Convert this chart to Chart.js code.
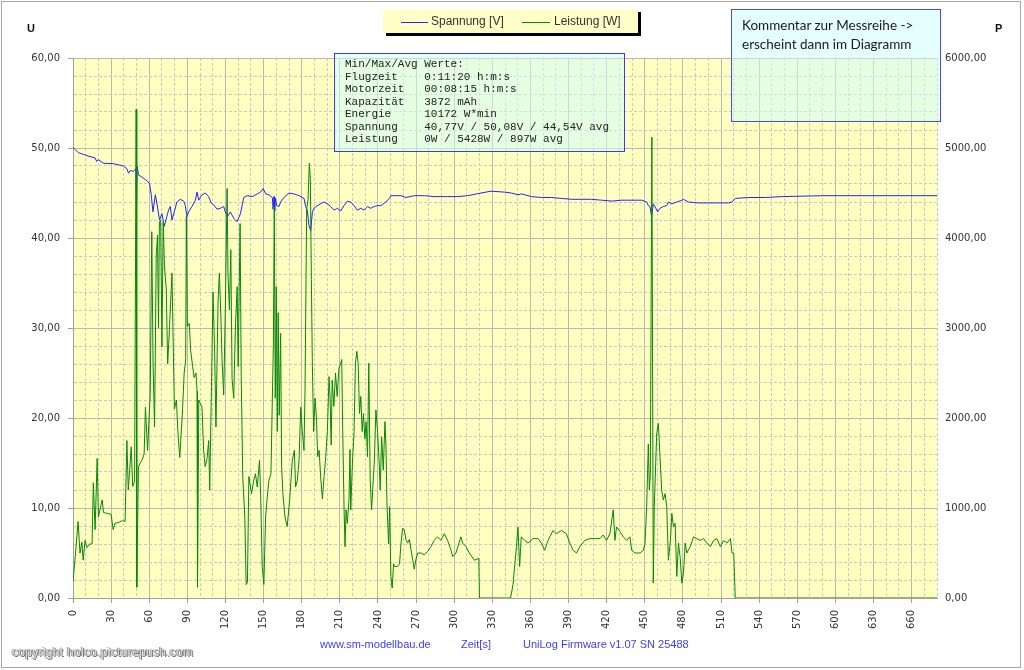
<!DOCTYPE html>
<html>
<head>
<meta charset="utf-8">
<title>UniLog Messreihe</title>
<script src="https://cdn.jsdelivr.net/npm/chart.js@4.4.1/dist/chart.umd.min.js"></script>
<style>
  body { margin: 0; background: #fff; }
  #wrap { position: relative; width: 1024px; height: 670px; overflow: hidden; }
  #chart { position: absolute; left: 0; top: 0; }
  .frame { position: absolute; left: 1px; top: 1px; width: 1020px; height: 667px; box-sizing: border-box; border: 1px solid #a8a8a8; pointer-events: none; }
  .axisTitle { position: absolute; font: bold 11px "Liberation Sans", Arial, sans-serif; color: #111; }
  .legend { position: absolute; left: 383px; top: 9px; width: 255px; height: 24px; background: #ffffc8; box-shadow: 3px 3px 0 #000; font: 12px "Liberation Sans", Arial, sans-serif; color: #333; }
  .legend .swatch { position: absolute; top: 13px; height: 0; border-top: 1px solid; }
  .legend .label { position: absolute; top: 5px; line-height: 14px; white-space: nowrap; }
  .infoBox { position: absolute; left: 334px; top: 53px; width: 291px; height: 99px; box-sizing: border-box; border: 1px solid #3a3aff; background: rgba(204, 255, 255, 0.5); padding: 4px 0 0 10px; font: 11px "Liberation Mono", "Courier New", monospace; line-height: 12.5px; color: #222; white-space: pre; }
  .commentBox { position: absolute; left: 731px; top: 9px; width: 210px; height: 113px; box-sizing: border-box; border: 1px solid #4848ff; background: rgba(204, 255, 255, 0.5); padding: 6px 0 0 10px; font: 13.5px Lato, "Open Sans", sans-serif; line-height: 19px; color: #1a1a1a; }
  .footer { position: absolute; top: 638px; font: 11px "Liberation Sans", Arial, sans-serif; color: #3c3cff; white-space: nowrap; }
  .copyright { position: absolute; left: 12px; top: 645px; font: 12px "Liberation Sans", Arial, sans-serif; letter-spacing: 0.3px; color: #d0d0d0; white-space: nowrap; text-shadow: 1px 1px 0 #707070, -1px 0 0 #9a9a9a; }
</style>
</head>
<body>
<div id="wrap">
  <canvas id="chart" width="1024" height="670"></canvas>
  <div class="frame"></div>
  <div class="axisTitle" style="left:27px; top:22px;">U</div>
  <div class="axisTitle" style="left:995px; top:22px;">P</div>

  <div class="legend">
    <span class="swatch" style="left:18px; width:27px; border-color:#2828ff;"></span>
    <span class="label" style="left:48px;">Spannung [V]</span>
    <span class="swatch" style="left:139px; width:28px; border-color:#0a8a0a;"></span>
    <span class="label" style="left:171px;">Leistung [W]</span>
  </div>

  <div class="infoBox">Min/Max/Avg Werte:
Flugzeit    0:11:20 h:m:s
Motorzeit   00:08:15 h:m:s
Kapazität   3872 mAh
Energie     10172 W*min
Spannung    40,77V / 50,08V / 44,54V avg
Leistung    0W / 5428W / 897W avg</div>

  <div class="commentBox">Kommentar zur Messreihe -&gt;<br>erscheint dann im Diagramm</div>

  <div class="footer" style="left:320px;">www.sm-modellbau.de</div>
  <div class="footer" style="left:461px;">Zeit[s]</div>
  <div class="footer" style="left:523px;">UniLog Firmware v1.07 SN 25488</div>
  <div class="copyright">copyright holco.picturepush.com</div>
</div>

<script>
// Spannung [V] over time [s]
const voltTime = [
  0, 2, 4.2, 8, 13.4, 17.4, 18.7, 20, 24, 31.9, 39.7, 42.4, 43.7, 45, 47.6, 49.5, 50, 50.5, 51.5, 54,
  56.9, 58.7, 60.3, 61.6, 62.9, 64.8, 66, 68.1, 70, 71.8, 73.9, 75.2, 76.6, 77.9, 79.7, 81.8, 84.4, 87.1, 88.4, 89.7,
  91, 93.6, 96.3, 97.6, 98.9, 101.5, 104.1, 106.8, 108.6, 110.7, 113.3, 115.9, 118.6, 119.9, 121.7, 123.8, 126.5, 129.1, 131.8, 133.1,
  134.4, 137.1, 141, 145, 147.6, 149.7, 151.6, 154.2, 156.9, 157.5, 158.2, 158.7, 159.3, 160.3, 162.1, 163.4, 166, 170, 173.9, 177.9,
  181.8, 183.1, 184.4, 185.7, 187.1, 188.4, 189.7, 192.3, 194.9, 197.6, 200.2, 202.8, 205.5, 208.1, 210.7, 213.3, 216, 218.6, 221.2, 223.8,
  226.5, 229.1, 231.8, 234.4, 237.1, 239.7, 242.3, 246.3, 248.9, 250.2, 254.2, 258.1, 262, 268.6, 276.5, 284.3, 294.8, 302.7, 310.6, 321.2,
  329, 339.6, 344.9, 350.2, 352.8, 360.7, 368.6, 376.5, 384.4, 392.3, 400.2, 408.1, 416, 423.9, 431.8, 439.7, 447.6, 451.5, 452.8, 454.1,
  455.4, 456.7, 458, 460.1, 462, 464.6, 467.3, 468.6, 471.3, 475.2, 479.2, 480.5, 484.4, 492.3, 505.5, 516, 518.7, 521.3, 531.8, 545,
  558.2, 590, 680
];
const voltValue = [
  50.07, 49.8, 49.48, 49.3, 49.04, 48.9, 48.5, 48.7, 48.3, 48.26, 48.0, 47.7, 47.2, 47.5, 47.4, 47.7, 43.5, 48.0, 47.0, 46.8,
  46.5, 46.3, 46.0, 44.8, 42.9, 44.8, 43.9, 42.0, 42.7, 41.3, 42.4, 43.1, 43.5, 42.0, 42.9, 44.0, 44.3, 44.1, 43.6, 42.4,
  42.9, 43.5, 44.2, 45.1, 44.2, 44.8, 45.0, 44.6, 43.9, 43.7, 43.2, 43.3, 43.5, 42.9, 42.4, 42.9, 42.2, 41.8, 42.7, 43.6,
  44.5, 44.7, 44.6, 44.9, 45.1, 45.5, 44.9, 44.8, 44.5, 43.2, 44.6, 43.0, 44.4, 43.6, 43.5, 44.0, 44.5, 45.0, 44.9, 44.7,
  44.4, 43.5, 43.1, 41.4, 40.8, 42.9, 43.3, 43.6, 43.8, 44.0, 43.8, 43.5, 43.1, 43.3, 43.0, 43.6, 44.1, 44.0, 43.6, 43.1,
  43.3, 43.1, 43.5, 43.3, 43.5, 43.6, 43.6, 44.0, 44.4, 44.7, 44.7, 44.7, 44.5, 44.7, 44.7, 44.6, 44.6, 44.6, 44.7, 45.0,
  45.2, 45.1, 45.0, 44.8, 44.9, 44.6, 44.5, 44.5, 44.4, 44.3, 44.3, 44.3, 44.2, 44.1, 44.2, 44.2, 44.2, 44.0, 43.6, 43.5,
  42.4, 43.8, 43.5, 42.9, 43.3, 43.5, 43.6, 44.0, 43.8, 44.0, 44.2, 44.3, 44.0, 43.9, 43.9, 43.9, 44.0, 44.4, 44.5, 44.5,
  44.6, 44.7, 44.7
];

// Leistung [W] over time [s]
const powerTime = [
  0, 2, 4, 5.5, 7, 8, 9.5, 11, 13, 15, 16, 17.4, 19, 20, 21.5, 23, 24, 27, 30, 31.6,
  33, 36, 39, 41, 42.4, 43.5, 45, 45.8, 47, 48.5, 49.7, 50.2, 51.5, 53, 54.5, 56, 57, 58.7, 60.8, 62,
  63, 64.2, 65.5, 66.5, 67.3, 68, 69, 70, 71, 72, 73.4, 74.5, 75.6, 77.9, 78.7, 79.8, 81.4, 82.5, 84, 85,
  86, 87.5, 88.7, 89.2, 90, 91.5, 92.6, 94.2, 95.3, 96.8, 97.6, 98, 99, 101.5, 102.8, 104, 105.5, 106.8, 107.6, 108.9,
  110.2, 111.5, 112.5, 114.2, 115.2, 116.3, 117.3, 118.6, 120, 121.3, 122, 123.1, 124.2, 125.2, 126.5, 127.8, 129.2, 130, 131.5, 132.4,
  133.6, 135.2, 136.3, 137.3, 138.4, 140.5, 142.3, 143.6, 145, 146.8, 147.8, 148.9, 150.2, 151.6, 152.9, 154.2, 155.8, 156.9, 157.7, 158.4,
  159.2, 160, 160.8, 161.5, 162.3, 163.4, 164.2, 165.2, 166.8, 168.6, 170.5, 172.6, 174.2, 175.2, 176.6, 177.9, 179.2, 180.5, 181.8, 182.6,
  183.9, 185, 186, 186.8, 187.6, 188.4, 189.4, 190.5, 191.6, 192.6, 193.7, 195, 196.3, 197.6, 198.9, 200.2, 201.5, 202.3, 203.2, 204,
  205.3, 206.6, 207.9, 209.3, 210.7, 211.5, 212.3, 213.3, 214.1, 214.9, 215.9, 217.2, 218, 218.6, 219.9, 221.2, 222.3, 223.4, 224.4, 225.5,
  226.5, 227.6, 228.6, 229.7, 230.7, 231.8, 232.8, 233.9, 235, 236, 237.1, 238.4, 239.7, 241, 241.8, 242.9, 244.2, 245.5, 246.3, 247.1,
  248.4, 249.2, 250.2, 251.2, 252.3, 253.3, 255.4, 257, 258.1, 259.4, 260.7, 262, 263.3, 264.7, 266, 268.6, 269.9, 271.3, 273.9, 276.5,
  279.2, 281.7, 284.3, 286.9, 289.6, 292.2, 294.8, 297.5, 298.8, 301.4, 305.3, 306.6, 309.3, 311.9, 315.9, 319.4, 319.9, 344.4, 346.3, 349,
  350.2, 351.5, 352.8, 355.5, 358.1, 362, 366, 368.6, 371.2, 373.9, 377.8, 380.4, 384.4, 388.3, 391, 393.6, 396.3, 398.9, 402.8, 406.8,
  410.7, 414.7, 417.3, 419.9, 422.6, 425.2, 426.5, 427.8, 430.4, 433.1, 435.7, 438.3, 439.7, 442.3, 446.3, 448.9, 450.2, 451.5, 452.8, 453.6,
  454.4, 455.6, 456.7, 457.5, 459.4, 460.7, 462, 463.3, 464.6, 466, 467.3, 468.6, 470.2, 471.3, 472.6, 473.9, 475.2, 476.5, 477.8, 479.2,
  480.5, 481.8, 483.1, 485.8, 488.4, 491, 493.7, 496.3, 498.9, 501.6, 504.2, 506.8, 509.5, 512.1, 514.7, 517.4, 518.7, 520, 521.2, 680
];
const powerValue = [
  180, 500, 850, 500, 620, 420, 640, 560, 600, 600, 1280, 760, 1550, 900, 1000, 1090, 950, 940, 930, 760,
  830, 840, 860, 850, 1750, 1200, 1500, 1680, 1240, 1300, 5428, 120, 1460, 1500, 1540, 1600, 2120, 1640, 2280, 4070,
  2600, 1900, 3800, 4030, 3000, 4180, 4200, 2790, 4180, 3680, 3440, 2600, 2900, 3610, 2950, 2100, 2200, 1860, 1560, 1800,
  2030, 2500, 2650, 4240, 3020, 3050, 2750, 2570, 2450, 2500, 2300, 120, 2200, 2120, 1640, 1460, 1550, 1750, 1200, 2290,
  3400, 2720, 1900, 3310, 3610, 3160, 2650, 2255, 3310, 4550, 3600, 3200, 3870, 2440, 2220, 3000, 3460, 2570, 4160, 2460,
  1350, 900, 150, 170, 1350, 1160, 1310, 1380, 1235, 1530, 1090, 350, 150, 900, 1120, 1310, 1380, 2220, 2810, 4350,
  2220, 3460, 1850, 3170, 2030, 2940, 1460, 1160, 900, 795, 1090, 1530, 1640, 1235, 1310, 1530, 2120, 1850, 1640, 2290,
  4320, 4430, 4830, 4650, 3540, 2570, 1850, 2220, 2000, 1570, 1640, 1330, 1100, 1350, 1570, 1850, 2460, 2240, 1700, 2420,
  2130, 2500, 2240, 2550, 2610, 2650, 1850, 1015, 570, 980, 830, 1090, 1650, 980, 1500, 1850, 2610, 2740, 2610, 2050,
  2240, 1850, 2050, 1770, 1960, 1570, 2610, 1310, 980, 1240, 1500, 2090, 1850, 1500, 1200, 1790, 1420, 1960, 1700, 1050,
  600, 1015, 240, 110, 380, 350, 350, 380, 600, 775, 760, 650, 610, 650, 540, 320, 430, 500, 500, 480,
  520, 570, 640, 680, 640, 715, 640, 530, 460, 500, 680, 610, 570, 500, 420, 440, 0, 0, 150, 570,
  790, 350, 680, 640, 610, 660, 660, 610, 530, 640, 750, 715, 750, 715, 610, 530, 500, 570, 640, 660,
  660, 660, 700, 640, 715, 980, 640, 790, 740, 680, 640, 680, 530, 500, 500, 530, 610, 1015, 1710, 1200,
  1380, 5120, 165, 1015, 1830, 1940, 1570, 1200, 1090, 1160, 1015, 420, 640, 940, 790, 830, 240, 610, 460, 165,
  280, 610, 500, 570, 680, 660, 640, 660, 610, 570, 640, 660, 570, 640, 610, 660, 500, 500, 0, 0
];

// axis ranges
const timeMax = 680;
const voltMax = 60;
const powerMax = 6000;

const fmtComma = (v) => v.toFixed(2).replace(".", ",");

// light yellow plot area like the original logger software
const plotBackground = {
  id: "plotBackground",
  beforeDraw(chart) {
    const { ctx, chartArea: a } = chart;
    ctx.save();
    ctx.fillStyle = "#ffffc0";
    ctx.fillRect(a.left, a.top, a.right - a.left, a.bottom - a.top);
    ctx.restore();
  },
};

const tickFont = { family: "'DejaVu Sans', Verdana, sans-serif", size: 10 };

new Chart(document.getElementById("chart"), {
  type: "line",
  data: {
    datasets: [
      {
        label: "Spannung [V]",
        data: voltTime.map((t, i) => ({ x: t, y: voltValue[i] })),
        borderColor: "#2323ff",
        borderWidth: 1,
        pointRadius: 0,
        tension: 0,
        yAxisID: "y",
        order: 1,
      },
      {
        label: "Leistung [W]",
        data: powerTime.map((t, i) => ({ x: t, y: powerValue[i] })),
        borderColor: "#0a860a",
        borderWidth: 1,
        pointRadius: 0,
        tension: 0,
        yAxisID: "y2",
        order: 0,
      },
    ],
  },
  options: {
    responsive: false,
    animation: false,
    layout: { padding: { top: 58, left: 0, right: 0, bottom: 0 } },
    plugins: {
      legend: { display: false },
      tooltip: { enabled: false },
    },
    scales: {
      x: {
        type: "linear",
        min: 0,
        max: timeMax,
        afterFit: (s) => { s.height = 72; },
        ticks: {
          stepSize: 10,
          autoSkip: false,
          maxRotation: 90,
          minRotation: 90,
          padding: 7,
          color: "#333",
          font: tickFont,
          callback: (v) => (v % 30 === 0 ? String(v) : ""),
        },
        grid: {
          color: (c) => (c.tick && c.tick.value % 30 === 0 ? "#b8b8b8" : "#cacaca"),
          tickColor: (c) => (c.tick && c.tick.value % 30 === 0 ? "#a0a0a0" : "rgba(0,0,0,0)"),
          tickLength: 5,
          lineWidth: 1,
        },
        border: {
          color: "#a0a0a0",
          dash: (c) => (c.tick && c.tick.value % 30 !== 0 ? [3, 2] : []),
        },
      },
      y: {
        position: "left",
        min: 0,
        max: voltMax,
        afterFit: (s) => { s.width = 73; },
        ticks: {
          stepSize: 2,
          autoSkip: false,
          padding: 8,
          color: "#333",
          font: tickFont,
          callback: (v) => (v % 10 === 0 ? fmtComma(v) : ""),
        },
        grid: {
          color: (c) => (c.tick && c.tick.value % 10 === 0 ? "#b8b8b8" : "#cacaca"),
          tickColor: (c) => (c.tick && c.tick.value % 10 === 0 ? "#a0a0a0" : "rgba(0,0,0,0)"),
          tickLength: 5,
          lineWidth: 1,
        },
        border: {
          color: "#a0a0a0",
          dash: (c) => (c.tick && c.tick.value % 10 !== 0 ? [3, 2] : []),
        },
      },
      y2: {
        position: "right",
        min: 0,
        max: powerMax,
        afterFit: (s) => { s.width = 87; },
        ticks: {
          stepSize: 1000,
          padding: 8,
          color: "#333",
          font: tickFont,
          callback: (v) => fmtComma(v),
        },
        grid: { drawOnChartArea: false, drawTicks: false },
        border: { display: false },
      },
    },
  },
  plugins: [plotBackground],
});
</script>
</body>
</html>
